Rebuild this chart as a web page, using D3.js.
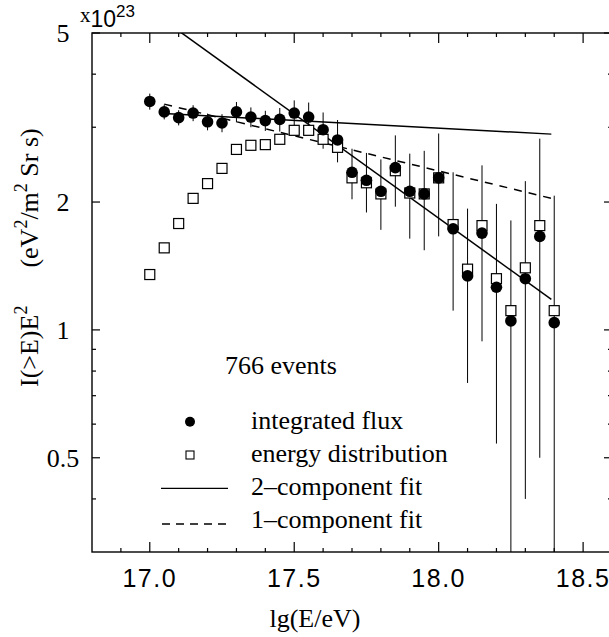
<!DOCTYPE html>
<html>
<head>
<meta charset="utf-8">
<script src="https://cdn.jsdelivr.net/npm/d3@7/dist/d3.min.js"></script>
<style>
    body { margin: 0; background: #fff; }
    svg { display: block; }
    .serif { font-family: "Liberation Serif", "Times New Roman", serif; fill: #000; }
    .sans { font-family: "Liberation Sans", Arial, sans-serif; fill: #000; }
</style>
</head>
<body>
<div id="chart"></div>
<script>
// lg(E/eV) bins
let energies = [17.0, 17.05, 17.1, 17.15, 17.2, 17.25, 17.3, 17.35, 17.4, 17.45,
    17.5, 17.55, 17.6, 17.65, 17.7, 17.75, 17.8, 17.85, 17.9, 17.95,
    18.0, 18.05, 18.1, 18.15, 18.2, 18.25, 18.3, 18.35, 18.4];

// integrated flux I(>E)E^2, units 1e23
let fluxValues = [3.45, 3.26, 3.16, 3.24, 3.09, 3.07, 3.26, 3.17, 3.11, 3.13,
    3.24, 3.17, 2.96, 2.80, 2.35, 2.25, 2.12, 2.41, 2.12, 2.09,
    2.28, 1.73, 1.34, 1.69, 1.26, 1.05, 1.32, 1.66, 1.04];
let fluxErrors = [0.15, 0.13, 0.13, 0.14, 0.14, 0.15, 0.18, 0.17, 0.17, 0.20,
    0.23, 0.26, 0.29, 0.32, 0.32, 0.36, 0.40, 0.46, 0.48, 0.55,
    0.62, 0.62, 0.59, 0.75, 0.72, 0.76, 0.92, 1.16, 1.03];

// energy distribution
let distValues = [1.35, 1.56, 1.78, 2.04, 2.21, 2.40, 2.66, 2.72, 2.73, 2.81,
    2.95, 2.95, 2.81, 2.69, 2.28, 2.22, 2.09, 2.37, 2.10, 2.09,
    2.28, 1.77, 1.39, 1.76, 1.32, 1.11, 1.40, 1.76, 1.11];

// fits: end points [lgE, value]
let fitTwoFlat = [[17.05, 3.23], [18.39, 2.89]];
let fitTwoSteep = [[17.1, 5.06], [18.39, 1.18]];
let fitOne = [[17.05, 3.40], [18.39, 2.04]];

let xMajorTicks = [17.0, 17.5, 18.0, 18.5];
let xMinorTicks = [16.9, 17.1, 17.2, 17.3, 17.4, 17.6, 17.7, 17.8, 17.9, 18.1, 18.2, 18.3, 18.4];
let yMajorTicks = [0.5, 1, 2, 5];
let yMinorTicks = [0.4, 0.6, 0.7, 0.8, 0.9, 3, 4];

let legendLabels = ["integrated flux", "energy distribution", "2\u2013component fit", "1\u2013component fit"];

let width = 609, height = 637;
let margin = {top: 33, right: -3, bottom: 85, left: 92};

let svg = d3.select("#chart").append("svg")
    .attr("width", width)
    .attr("height", height);

let x = d3.scaleLinear()
    .domain([16.8, 18.6])
    .range([margin.left, width - margin.right]);
let y = d3.scaleLog()
    .domain([0.3, 5])
    .range([height - margin.bottom, margin.top]);

let x0 = x.range()[0], x1 = x.range()[1];
let y0 = y.range()[0], y1 = y.range()[1];

svg.append("defs").append("clipPath").attr("id", "plot")
    .append("rect")
    .attr("x", x0).attr("y", y1)
    .attr("width", x1 - x0).attr("height", y0 - y1);

// frame
let frame = svg.append("g").attr("stroke", "#000").attr("stroke-width", 1.4).attr("fill", "none");
frame.append("rect")
    .attr("x", x0).attr("y", y1)
    .attr("width", x1 - x0).attr("height", y0 - y1);

// ticks on all four sides
let ticks = svg.append("g").attr("stroke", "#000").attr("stroke-width", 1.2);
function xTicks(vals, len) {
    vals.forEach(v => {
        ticks.append("line").attr("x1", x(v)).attr("x2", x(v)).attr("y1", y0).attr("y2", y0 - len);
        ticks.append("line").attr("x1", x(v)).attr("x2", x(v)).attr("y1", y1).attr("y2", y1 + len);
    });
}
function yTicks(vals, len) {
    vals.forEach(v => {
        ticks.append("line").attr("x1", x0).attr("x2", x0 + len).attr("y1", y(v)).attr("y2", y(v));
        ticks.append("line").attr("x1", x1).attr("x2", x1 - len).attr("y1", y(v)).attr("y2", y(v));
    });
}
xTicks(xMajorTicks, 10);
xTicks(xMinorTicks, 4);
yTicks(yMajorTicks, 8);
yTicks(yMinorTicks, 4);

// tick labels
svg.append("g").selectAll("text")
    .data(xMajorTicks)
    .enter().append("text")
    .attr("class", "sans")
    .attr("x", d => x(d))
    .attr("y", 587)
    .attr("text-anchor", "middle")
    .attr("font-size", 25)
    .attr("letter-spacing", 1.5)
    .text(d => d.toFixed(1));

svg.append("g").selectAll("text")
    .data(yMajorTicks)
    .enter().append("text")
    .attr("class", "serif")
    .attr("x", 63)
    .attr("y", d => y(d) + 9)
    .attr("text-anchor", "middle")
    .attr("font-size", 26)
    .text(d => d);

// x10^23 multiplier
let mult = svg.append("text").attr("x", 80).attr("y", 27);
mult.append("tspan").attr("class", "serif").attr("font-size", 21).attr("dy", -5).text("x");
mult.append("tspan").attr("class", "sans").attr("font-size", 23).attr("dy", 5).text("10");
mult.append("tspan").attr("class", "sans").attr("font-size", 17).attr("dy", -10).text("23");

// axis titles
svg.append("text")
    .attr("class", "serif")
    .attr("x", (x(17.5) + x(18.0)) / 2 - 97)
    .attr("y", 627)
    .attr("font-size", 26)
    .text("lg(E/eV)");

let ylab = svg.append("text")
    .attr("class", "serif")
    .attr("font-size", 26)
    .attr("transform", "translate(38,387) rotate(-90)");
ylab.append("tspan").text("I(>E)E");
ylab.append("tspan").attr("font-size", 18).attr("dy", -11).text("2");
ylab.append("tspan").attr("dy", 11).attr("dx", 38).text("(eV");
ylab.append("tspan").attr("font-size", 18).attr("dy", -11).text("2");
ylab.append("tspan").attr("dy", 11).text("/m");
ylab.append("tspan").attr("font-size", 18).attr("dy", -11).text("2");
ylab.append("tspan").attr("dy", 11).text(" Sr s)");

let plot = svg.append("g").attr("clip-path", "url(#plot)");

// fit lines
let line = d3.line().x(d => x(d[0])).y(d => y(d[1]));
plot.append("path").datum(fitTwoFlat).attr("d", line)
    .attr("fill", "none").attr("stroke", "#000").attr("stroke-width", 1.5);
plot.append("path").datum(fitTwoSteep).attr("d", line)
    .attr("fill", "none").attr("stroke", "#000").attr("stroke-width", 1.5);
plot.append("path").datum(fitOne).attr("d", line)
    .attr("fill", "none").attr("stroke", "#000").attr("stroke-width", 1.5)
    .attr("stroke-dasharray", "8,7");

// error bars for the integrated flux
let bars = plot.append("g").attr("stroke", "#000").attr("stroke-width", 1);
energies.forEach((e, i) => {
    let top = fluxValues[i] + fluxErrors[i];
    let low = fluxValues[i] - fluxErrors[i];
    let yb = low > 0.3 ? y(low) : y0;
    bars.append("line")
        .attr("x1", x(e)).attr("x2", x(e))
        .attr("y1", y(top)).attr("y2", low > 0 ? yb : y0 - 11);
    if (low <= 0) {
        // open arrow head: error bar reaches zero
        bars.append("path")
            .attr("d", "M" + (x(e) - 3.2) + "," + (y0 - 11) + "L" + (x(e) + 3.2) + "," + (y0 - 11) +
                "L" + x(e) + "," + (y0 - 1) + "Z")
            .attr("fill", "#fff");
    }
});

// energy distribution squares
plot.append("g").selectAll("rect")
    .data(energies)
    .enter().append("rect")
    .attr("x", (d) => x(d) - 5)
    .attr("y", (d, i) => y(distValues[i]) - 5)
    .attr("width", 10)
    .attr("height", 10)
    .attr("fill", "#fff")
    .attr("stroke", "#000")
    .attr("stroke-width", 1.2);

// integrated flux dots
plot.append("g").selectAll("circle")
    .data(energies)
    .enter().append("circle")
    .attr("cx", d => x(d))
    .attr("cy", (d, i) => y(fluxValues[i]))
    .attr("r", 5.8)
    .attr("fill", "#000");

// annotation
svg.append("text")
    .attr("class", "serif")
    .attr("x", 225)
    .attr("y", 374)
    .attr("font-size", 26)
    .text("766 events");

// legend
let legend = svg.append("g");
let rowY = [421.7, 455, 488.3, 524];
legend.append("circle").attr("cx", 190).attr("cy", rowY[0]).attr("r", 5).attr("fill", "#000");
legend.append("rect").attr("x", 186).attr("y", rowY[1] - 4).attr("width", 8).attr("height", 8)
    .attr("fill", "#fff").attr("stroke", "#000").attr("stroke-width", 1.1);
legend.append("line").attr("x1", 161).attr("x2", 228).attr("y1", rowY[2]).attr("y2", rowY[2])
    .attr("stroke", "#000").attr("stroke-width", 1.3);
legend.append("line").attr("x1", 162).attr("x2", 228).attr("y1", rowY[3]).attr("y2", rowY[3])
    .attr("stroke", "#000").attr("stroke-width", 1.3).attr("stroke-dasharray", "8,6");
legend.selectAll("text")
    .data(legendLabels)
    .enter().append("text")
    .attr("class", "serif")
    .attr("x", 251)
    .attr("y", (d, i) => [428.5, 461.7, 495, 528.3][i])
    .attr("font-size", 26)
    .text(d => d);
</script>
</body>
</html>
